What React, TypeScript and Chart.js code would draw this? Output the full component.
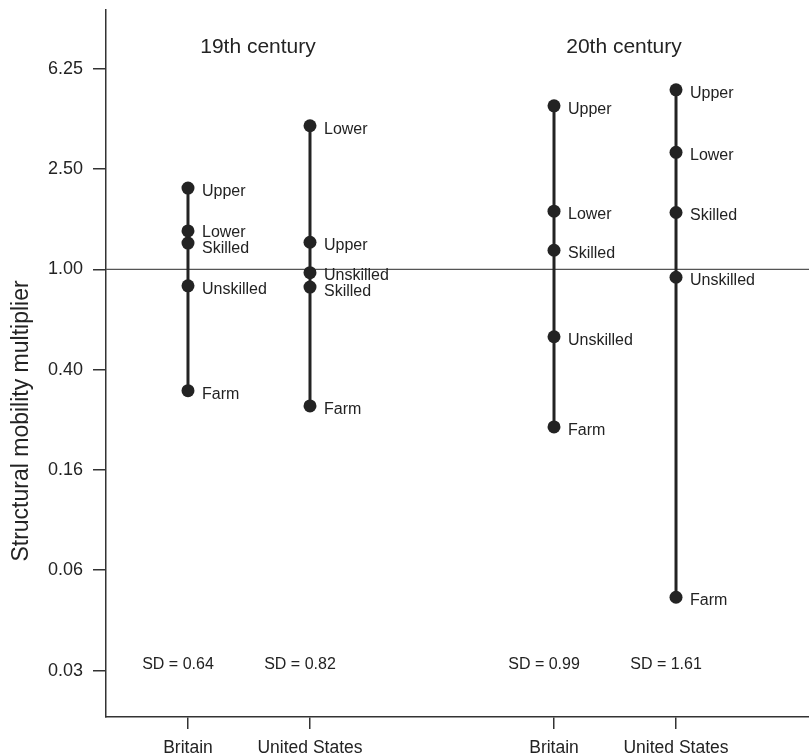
import React, { useEffect, useRef } from "react";
import { Chart, registerables } from "chart.js";

Chart.register(...registerables);

// ---- Data ----
const categories = ["Britain", "United States", "Britain", "United States"];
const positions = [1, 2, 4, 5];
const centuries = ["19th century", "20th century"];
const classNames = ["Upper", "Lower", "Skilled", "Unskilled", "Farm"];
const britain19 = [2.1, 1.42, 1.27, 0.86, 0.33];
const us19 = [1.28, 3.71, 0.85, 0.97, 0.287];
const britain20 = [4.45, 1.7, 1.19, 0.54, 0.237];
const us20 = [5.15, 2.91, 1.68, 0.93, 0.05];
const sdLabels = ["SD = 0.64", "SD = 0.82", "SD = 0.99", "SD = 1.61"];
const yTickValues = [0.0256, 0.064, 0.16, 0.4, 1, 2.5, 6.25];
const yTickLabels = ["0.03", "0.06", "0.16", "0.40", "1.00", "2.50", "6.25"];
const yTitle = "Structural mobility multiplier";

const columns = [britain19, us19, britain20, us20];

const FONT = '"Liberation Sans", Arial, Helvetica, sans-serif';
const INK = "#232323";

const annotations = {
  id: "annotations",
  beforeDatasetsDraw(chart: any) {
    const { ctx, chartArea, scales } = chart;
    const y1 = scales.y.getPixelForValue(1);
    ctx.save();
    ctx.strokeStyle = "#555";
    ctx.lineWidth = 1.2;
    ctx.beginPath();
    ctx.moveTo(chartArea.left, y1);
    ctx.lineTo(chartArea.right, y1);
    ctx.stroke();
    ctx.restore();
  },
  afterDraw(chart: any) {
    const { ctx, chartArea, scales } = chart;
    const xs = scales.x;
    const ys = scales.y;
    ctx.save();
    ctx.fillStyle = INK;

    // century titles
    ctx.font = `21px ${FONT}`;
    ctx.textAlign = "center";
    ctx.textBaseline = "alphabetic";
    centuries.forEach((t, g) => {
      const mid = (xs.getPixelForValue(positions[g * 2]) + xs.getPixelForValue(positions[g * 2 + 1])) / 2;
      ctx.fillText(t, mid + 9, chartArea.top + 43);
    });

    // SD labels
    ctx.font = `16px ${FONT}`;
    sdLabels.forEach((t, i) => {
      ctx.fillText(t, xs.getPixelForValue(positions[i]) - 10, chartArea.bottom - 48);
    });

    // point labels with simple overlap resolution
    ctx.textAlign = "left";
    columns.forEach((vals, c) => {
      const x = xs.getPixelForValue(positions[c]) + 14;
      const items = classNames
        .map((n, i) => ({ n, y: ys.getPixelForValue(vals[i]) + 8 }))
        .sort((a, b) => a.y - b.y);
      const gap = 16.5;
      for (let k = 1; k < items.length; k++) {
        const a = items[k - 1];
        const b = items[k];
        if (b.y - a.y < gap) {
          const m = (a.y + b.y) / 2;
          a.y = m - gap / 2;
          b.y = m + gap / 2;
        }
      }
      items.forEach((it) => ctx.fillText(it.n, x, it.y));
    });

    // y-axis title
    ctx.font = `23px ${FONT}`;
    ctx.textAlign = "center";
    ctx.textBaseline = "alphabetic";
    ctx.translate(28, 421);
    ctx.rotate(-Math.PI / 2);
    ctx.fillText(yTitle, 0, 0);
    ctx.restore();
  },
};

export default function App() {
  const ref = useRef<HTMLCanvasElement | null>(null);

  useEffect(() => {
    if (!ref.current) return;
    const datasets = columns.map((vals, c) => ({
      data: vals
        .map((v) => ({ x: positions[c], y: v }))
        .sort((a, b) => a.y - b.y),
      showLine: true,
      borderColor: INK,
      borderWidth: 3,
      pointRadius: 6.5,
      pointBackgroundColor: INK,
      pointBorderWidth: 0,
      pointHoverRadius: 6.5,
    }));

    const chart = new Chart(ref.current, {
      type: "scatter",
      data: { datasets },
      options: {
        animation: false,
        responsive: false,
        devicePixelRatio: 1,
        layout: { autoPadding: false, padding: { top: 10, left: 0, right: 0, bottom: 0 } },
        plugins: { legend: { display: false }, tooltip: { enabled: false } },
        scales: {
          x: {
            type: "linear",
            min: 0.328,
            max: 6.09,
            afterBuildTicks: (s: any) => {
              s.ticks = positions.map((v) => ({ value: v }));
            },
            afterFit: (s: any) => {
              s.height = 39;
              s.paddingLeft = 0;
              s.paddingRight = 0;
            },
            grid: { drawOnChartArea: false, drawTicks: true, tickLength: 12, color: "#333", lineWidth: 1.5 },
            border: { display: true, color: "#333", width: 1.5 },
            ticks: {
              autoSkip: false,
              maxRotation: 0,
              padding: 9,
              color: INK,
              font: { family: FONT, size: 17.5 },
              callback: (_v: any, i: number) => categories[i],
            },
          },
          y: {
            type: "logarithmic",
            min: 0.01675,
            max: 10.68,
            afterBuildTicks: (s: any) => {
              s.ticks = yTickValues.map((v) => ({ value: v }));
            },
            afterFit: (s: any) => {
              s.width = 106;
              s.paddingTop = 0;
              s.paddingBottom = 0;
            },
            grid: { drawOnChartArea: false, drawTicks: true, tickLength: 13, color: "#333", lineWidth: 1.5 },
            border: { display: true, color: "#333", width: 1.5 },
            ticks: {
              autoSkip: false,
              padding: 10,
              color: INK,
              font: { family: FONT, size: 18 },
              callback: (_v: any, i: number) => yTickLabels[i],
            },
          },
        },
      },
      plugins: [annotations],
    });
    return () => chart.destroy();
  }, []);

  return (
    <div style={{ position: "absolute", left: 0, top: 0, width: 809, height: 756, background: "#fff" }}>
      <canvas ref={ref} width={809} height={756} style={{ display: "block" }} />
    </div>
  );
}
